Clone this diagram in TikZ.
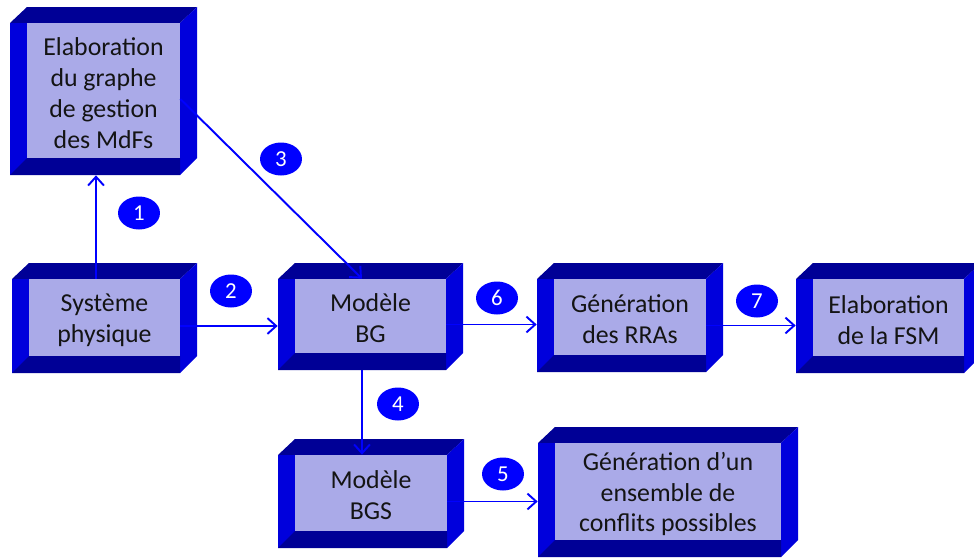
\documentclass[tikz,border=0pt]{standalone}
\usepackage{fontspec}
\setmainfont{Carlito}
\usetikzlibrary{arrows.meta, fit, shapes.geometric}

\definecolor{cubetop}{RGB}{0,0,150}
\definecolor{cubeside}{RGB}{0,0,220}
\definecolor{cubeface}{RGB}{170,170,232}
\definecolor{flowblue}{RGB}{0,0,255}

% #1 name, (#2,#3) front top left, (#4,#5) front bottom right, #6 text
\newcommand{\cubebox}[6]{%
  \fill[cubetop] (#2,#3) -- (#2+17,#3-16) -- (#4+17,#3-16) -- (#4,#3) -- cycle;
  \fill[cubeside] (#4,#3) -- (#4+17,#3-16) -- (#4+17,#5-17) -- (#4,#5) -- cycle;
  \node[front, fit={(#2,#3) (#4,#5)}] (#1) {};
  \fill[cubetop] (#2,#5) -- (#2+17,#5-17) -- (#4,#5-17) -- (#4,#5) -- cycle;
  \node[face, fit={(#2+17,#3) (#4,#5-17)}] (#1-in) {};
  \node[boxtext] (#1-txt) at (#1-in.center) {#6};
}

\begin{document}
\begin{tikzpicture}[
  x=0.02cm, y=-0.02cm,
  front/.style={fill=cubeside, inner sep=0pt},
  face/.style={fill=cubeface, inner sep=0pt},
  boxtext/.style={inner sep=0pt, align=center, text=black!92, yshift=-0.05cm,
    font=\fontsize{14.7}{17.6}\selectfont},
  badge/.style={ellipse, fill=flowblue, text=white, inner sep=0pt,
    minimum width=0.84cm, minimum height=0.66cm, font=\fontsize{13}{14}\selectfont},
  flow/.style={draw=flowblue, line width=1.1pt, -{Straight Barb[length=5pt, width=9pt]}}
]
\useasboundingbox (0,0) rectangle (974,558);

\cubebox{graphe}{10}{23}{180}{175}{Elaboration\\du graphe\\de gestion\\des MdFs}
\cubebox{sys}{12}{279}{180}{373}{Système\\physique}
\cubebox{bg}{278}{279}{446}{370}{Modèle\\BG}
\cubebox{rra}{537}{279}{706}{372}{Génération\\des RRAs}
\cubebox{fsm}{796}{279}{964}{373}{Elaboration\\de la FSM}
\cubebox{bgs}{278}{455}{447}{548}{Modèle\\BGS}
\cubebox{conf}{538}{443}{781}{557}{Génération d’un\\ensemble de\\conflits possibles}

% connectors
\draw[flow] (sys.north) -- (sys.north |- graphe.south);
\draw[flow] (sys.east) -- (sys.east -| bg.west);
\draw[flow] (graphe.east) -- (bg.north);
\draw[flow] (bg.south) -- (bg.south |- bgs.north);
\draw[flow] (bgs.east) -- (bgs.east -| conf.west);
\draw[flow] (bg.east) -- (bg.east -| rra.west);
\draw[flow] (rra.east) -- (rra.east -| fsm.west);

% numbers
\node[badge] (n1) at (139,213) {1};
\node[badge] (n2) at (231,291) {2};
\node[badge] (n3) at (281,159) {3};
\node[badge] (n4) at (398,404) {4};
\node[badge] (n5) at (503,474) {5};
\node[badge] (n6) at (497,298) {6};
\node[badge] (n7) at (757,301) {7};
\end{tikzpicture}
\end{document}
